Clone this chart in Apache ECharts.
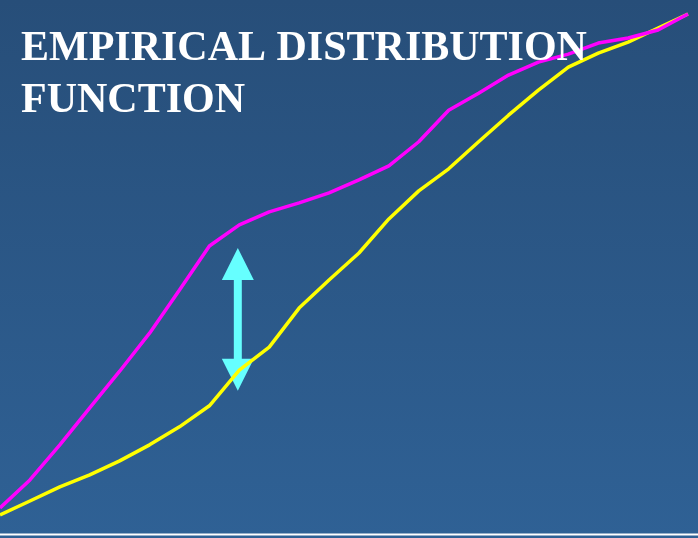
<!DOCTYPE html>
<html>
<head>
<meta charset="utf-8">
<script src="https://cdn.jsdelivr.net/npm/echarts@6/dist/echarts.min.js"></script>
<style>
html,body{margin:0;padding:0;}
#chart{width:698px;height:538px;background:linear-gradient(to bottom,#274E79 0%,#2F6195 100%);}
</style>
</head>
<body>
<div id="chart"></div>
<script>
// Sample index (x) and empirical distribution values (y, 0..1)
const xIndex = [0,1,2,3,4,5,6,7,8,9,10,11,12,13,14,15,16,17,18,19,20,21,22,23];
const magentaEDF = [0.014,0.070,0.140,0.214,0.287,0.363,0.449,0.537,0.579,0.605,0.623,0.643,0.669,0.697,0.745,0.808,0.842,0.878,0.904,0.920,0.942,0.952,0.968,1.0];
const yellowEDF  = [0.000,0.028,0.056,0.080,0.108,0.140,0.176,0.218,0.289,0.335,0.413,0.469,0.523,0.591,0.647,0.691,0.745,0.798,0.848,0.894,0.922,0.944,0.972,1.0];
const titleLines = ['EMPIRICAL DISTRIBUTION', 'FUNCTION'];
// Double arrow marking the gap between the two functions
const arrowX = 7.95;
const arrowTop = 0.533;
const arrowBottom = 0.248;

const chart = echarts.init(document.getElementById('chart'), null, {renderer:'canvas'});
const pairs = (ys) => xIndex.map((x,i)=>[x, ys[i]]);

chart.setOption({
  backgroundColor: 'transparent',
  animation: false,
  title: {
    text: titleLines.join('\n'),
    left: 16, top: 18,
    textStyle: {color:'#ffffff', fontFamily:'Liberation Serif', fontWeight:'bold', fontSize:42, lineHeight:52}
  },
  grid: {left:0, right:10, top:14, bottom:23},
  xAxis: {type:'value', min:0, max:23, show:false},
  yAxis: {type:'value', min:0, max:1, show:false},
  series: [
    {type:'line', data:pairs(yellowEDF), showSymbol:false, clip:false,
     lineStyle:{color:'#FFFF00', width:3.5}, z:3},
    {type:'line', data:pairs(magentaEDF), showSymbol:false, clip:false,
     lineStyle:{color:'#FF00FF', width:3.5}, z:4}
  ]
});

function drawExtras(){
  const top = chart.convertToPixel({gridIndex:0}, [arrowX, arrowTop]);
  const bot = chart.convertToPixel({gridIndex:0}, [arrowX, arrowBottom]);
  const cx = top[0];
  const headH = 32, headW = 32, shaftW = 8;
  const cyan = '#66FFFF';
  chart.setOption({
    graphic: [
      {type:'polygon', z:1, shape:{points:[[cx, top[1]],[cx-headW/2, top[1]+headH],[cx+headW/2, top[1]+headH]]}, style:{fill:cyan}},
      {type:'rect', z:1, shape:{x:cx-shaftW/2, y:top[1]+headH-1, width:shaftW, height:(bot[1]-top[1])-2*headH+2}, style:{fill:cyan}},
      {type:'polygon', z:1, shape:{points:[[cx, bot[1]],[cx-headW/2, bot[1]-headH],[cx+headW/2, bot[1]-headH]]}, style:{fill:cyan}},
      {type:'line', z:1, shape:{x1:0, y1:534.5, x2:698, y2:534.5}, style:{stroke:'#ffffff', lineWidth:2}}
    ]
  });
}
drawExtras();
</script>
</body>
</html>
